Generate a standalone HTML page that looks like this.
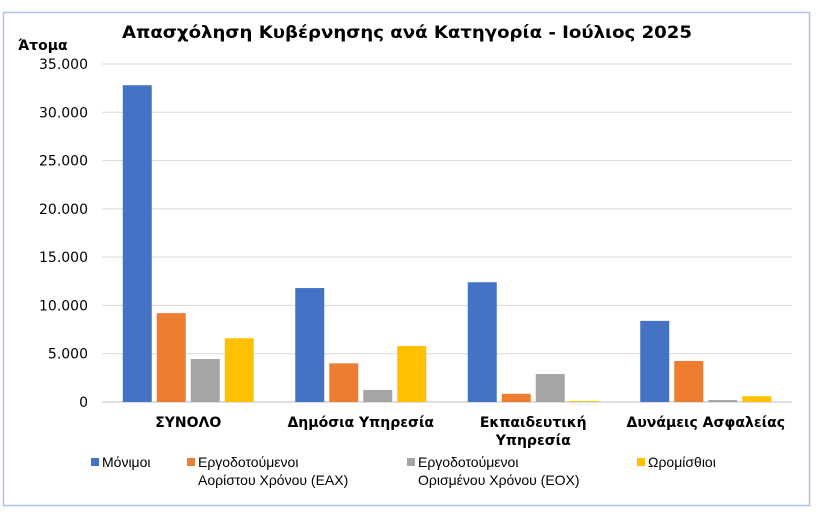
<!DOCTYPE html>
<html><head><meta charset="utf-8"><style>
body{margin:0;background:#fff;width:826px;height:518px;overflow:hidden;font-family:"Liberation Sans","DejaVu Sans",sans-serif}
svg text{font-family:"Liberation Sans","DejaVu Sans",sans-serif}
svg text.dv{font-family:"DejaVu Sans",sans-serif}
</style></head><body>
<svg id="chart" width="826" height="518">
<rect x="3.5" y="12.5" width="806" height="493" fill="#fff" stroke="#a9c4eb" stroke-width="1.5"/>
<text class="dv" x="407" y="38" text-anchor="middle" font-size="17" font-weight="bold" textLength="570" lengthAdjust="spacingAndGlyphs">Απασχόληση Κυβέρνησης ανά Κατηγορία - Ιούλιος 2025</text>
<text class="dv" x="18" y="50" font-size="14" font-weight="bold">Άτομα</text>
<g id="grid"></g><g id="bars"></g><g id="xlabels"></g><g id="legend"></g>
</svg>
<script>
const categories=[["ΣΥΝΟΛΟ"],["Δημόσια Υπηρεσία"],["Εκπαιδευτική","Υπηρεσία"],["Δυνάμεις Ασφαλείας"]];
const seriesNames=[["Μόνιμοι"],["Εργοδοτούμενοι","Αορίστου Χρόνου (ΕΑΧ)"],["Εργοδοτούμενοι","Ορισμένου Χρόνου (ΕΟΧ)"],["Ωρομίσθιοι"]];
const monimoi=[32800,11800,12400,8400];
const eax=[9200,4000,850,4250];
const eox=[4450,1250,2900,200];
const oromisthioi=[6600,5800,100,600];
const yTicks=[0,5000,10000,15000,20000,25000,30000,35000];
const yTickLabels=["0","5.000","10.000","15.000","20.000","25.000","30.000","35.000"];
const colors=["#4472c4","#ed7d31","#a5a5a5","#ffc000"];
const series=[monimoi,eax,eox,oromisthioi];
const NS="http://www.w3.org/2000/svg";
const L=102,R=792,T=64,B=402,yMax=35000;
const y=v=>B-(v/yMax)*(B-T);
const bw=(R-L)/categories.length;
const x=i=>L+bw*i;
function mk(tag,attrs,parent){const e=document.createElementNS(NS,tag);for(const k in attrs)e.setAttribute(k,attrs[k]);parent.appendChild(e);return e;}
const grid=document.getElementById('grid');
yTicks.forEach((t,i)=>{
 const l=mk('line',{x1:L,x2:R,y1:y(t),y2:y(t),stroke:i===0?'#bfbfbf':'#d9d9d9','stroke-width':1},grid);
 
 
 const tx=mk('text',{x:88,y:y(t)+5,'text-anchor':'end','font-size':14,'class':'dv'},grid);
 tx.textContent=yTickLabels[i];
 
 
});
const bars=document.getElementById('bars');
const barW=29,step=34;
categories.forEach((c,ci)=>{
 const cx=x(ci)+bw/2;
 series.forEach((s,si)=>{
  const bx=cx-2*step+si*step+2.5;
  const r=mk('rect',{x:bx,y:y(s[ci]),width:barW,height:B-y(s[ci]),fill:colors[si]},bars);
  
  
 });
 const t=mk('text',{x:cx,y:427,'text-anchor':'middle','font-size':14,'font-weight':'bold','class':'dv'},document.getElementById('xlabels'));
 
 
 c.forEach((line,li)=>{const ts=mk('tspan',{x:cx,dy:li?18:0},t);ts.textContent=line;});
});
const leg=document.getElementById('legend');
const lx=[91,187,407,637];
seriesNames.forEach((n,i)=>{
 const g=mk('g',{},leg);
 
 
 mk('rect',{x:lx[i],y:458,width:8,height:8,fill:colors[i]},g);
 const t=mk('text',{x:lx[i]+11,y:467,'font-size':14},g);
 n.forEach((line,li)=>{const ts=mk('tspan',{x:lx[i]+11,dy:li?18:0},t);ts.textContent=line;});
});
</script>
</body></html>
